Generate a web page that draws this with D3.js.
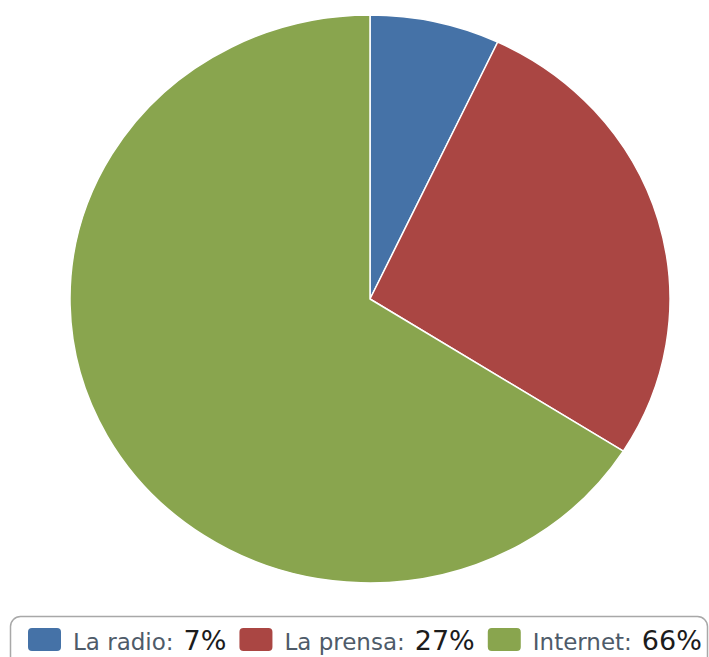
<!DOCTYPE html>
<html>
<head>
<meta charset="utf-8">
<script src="https://cdn.jsdelivr.net/npm/d3@7/dist/d3.min.js"></script>
<style>
  html, body { margin: 0; padding: 0; background: #fff; }
  svg { display: block; }
</style>
</head>
<body>
<svg id="chart" width="709" height="657"></svg>
<script>
// Media share
const categories = ["La radio", "La prensa", "Internet"];
const shares = [7, 27, 66];
const colors = ["#4572A7", "#AA4643", "#89A54E"];

const W = 709, H = 657;
const svg = d3.select("#chart");

// Pie geometry (slightly wider than tall)
const cx = 370, cy = 299, rx = 300, ry = 284;

const pie = d3.pie().sort(null).value(d => d.value).startAngle(0).endAngle(2 * Math.PI);
const arc = d3.arc().innerRadius(0).outerRadius(rx);

const data = categories.map((c, i) => ({ name: c, value: shares[i], color: colors[i] }));

const g = svg.append("g")
  .attr("transform", `translate(${cx},${cy}) scale(1,${ry / rx})`);

g.selectAll("path.slice")
  .data(pie(data))
  .join("path")
  .attr("class", "slice")
  .attr("d", arc)
  .attr("fill", d => d.data.color)
  .attr("stroke", "#ffffff")
  .attr("stroke-width", 1.5)
  .attr("stroke-linejoin", "round")
  .attr("vector-effect", "non-scaling-stroke");

// Legend box
const legendTop = 616;
svg.append("rect")
  .attr("x", 10.5).attr("y", legendTop + 0.5)
  .attr("width", 697).attr("height", 80)
  .attr("rx", 10).attr("ry", 10)
  .attr("fill", "#fff")
  .attr("stroke", "#a8a8a8")
  .attr("stroke-width", 1.5);

// Legend items flow left to right
const legend = svg.append("g");
const baseline = 650;
let x = 28;
data.forEach(d => {
  legend.append("rect")
    .attr("x", x).attr("y", 628)
    .attr("width", 33).attr("height", 23)
    .attr("rx", 4).attr("ry", 4)
    .attr("fill", d.color);
  x += 33 + 12;
  const lab = legend.append("text")
    .attr("x", x).attr("y", baseline)
    .attr("font-family", "DejaVu Sans, Verdana, sans-serif")
    .attr("font-size", 23)
    .attr("fill", "#4e5b69")
    .text(d.name + ":");
  x += lab.node().getComputedTextLength() + 10;
  const val = legend.append("text")
    .attr("x", x).attr("y", baseline)
    .attr("font-family", "DejaVu Sans, Verdana, sans-serif")
    .attr("font-size", 27)
    .attr("fill", "#1c1c1c")
    .text(d.value + "%");
  x += val.node().getComputedTextLength() + 13;
});
</script>
</body>
</html>
